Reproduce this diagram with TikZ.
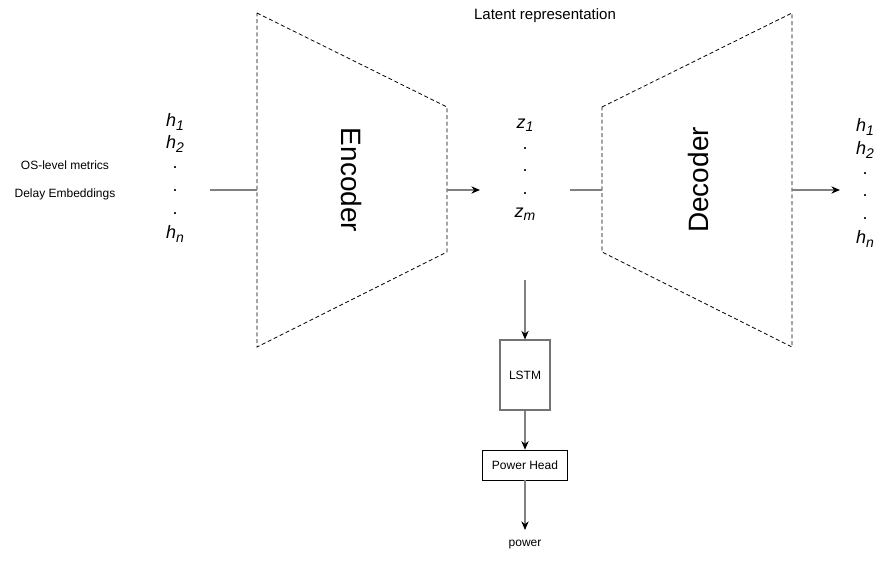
\documentclass[tikz,border=0pt]{standalone}
\usepackage{fontspec}
\setmainfont{Liberation Sans}
\usetikzlibrary{arrows.meta, positioning}

\newcommand{\vsub}[2]{\textit{#1}\raisebox{-0.35ex}{\fontsize{10.5}{12}\selectfont\itshape #2}}

\begin{document}
\begin{tikzpicture}[
    x=0.75pt, y=-0.75pt,
    lbl/.style={font=\fontsize{9}{11}\selectfont, inner sep=0pt},
    var/.style={font=\fontsize{13.5}{16}\selectfont, inner sep=0pt},
    dotv/.style={font=\fontsize{13.5}{16}\selectfont, inner sep=0pt},
    trap/.style={draw, dashed, dash pattern=on 3pt off 2pt, line width=0.6pt},
    title/.style={font=\fontsize{21}{24}\selectfont, inner sep=0pt},
    box/.style={draw, rectangle, align=center, font=\fontsize{9}{11}\selectfont, inner sep=0pt},
    line/.style={draw=black!50, line width=0.8pt},
    arrow/.style={draw=black!50, line width=0.8pt, -{Stealth[length=6.5pt, width=5.5pt, black]}}
]
\useasboundingbox (0,0) rectangle (881,560);

% Eingaben (links)
\node[lbl] (os) at (65,165) {OS-level metrics};
\node[lbl] (delay) at (65,194) {Delay Embeddings};

\node[var] (h1) at (175,122) {\vsub{h}{1}};
\node[var] (h2) at (175,144) {\vsub{h}{2}};
\node[dotv] (hd1) at (175,168) {.};
\node[dotv] (hd2) at (175,191) {.};
\node[dotv] (hd3) at (175,214) {.};
\node[var] (hn) at (175,234) {\vsub{h}{n}};

% Encoder
\draw[trap] (257,13) -- (447,107) -- (447,252) -- (257,347) -- cycle;
\node[title, rotate=-90] (enc) at (352,180) {Encoder};
\coordinate (encin) at (257,190);
\coordinate (encout) at (447,190);
\coordinate (hout) at (210,190);

% Latenter Raum
\node[font=\fontsize{11.25}{13}\selectfont, inner sep=0pt] (latent) at (545,16) {Latent representation};
\node[var] (z1) at (525,125) {\vsub{z}{1}};
\node[dotv] (zd1) at (525,149) {.};
\node[dotv] (zd2) at (525,171) {.};
\node[dotv] (zd3) at (525,194) {.};
\node[var] (zm) at (525,214) {\vsub{z}{m}};
\coordinate (zin) at (480,190);
\coordinate (zout) at (570,190);
\coordinate (zdown) at (525,280);

% Decoder
\draw[trap] (602,107) -- (792,13) -- (792,347) -- (602,252) -- cycle;
\node[title, rotate=90] (dec) at (698,180) {Decoder};
\coordinate (decin) at (602,190);
\coordinate (decout) at (792,190);
\coordinate (rin) at (840,190);

% Ausgaben (rechts)
\node[var] (r1) at (865,127) {\vsub{h}{1}};
\node[var] (r2) at (865,150) {\vsub{h}{2}};
\node[dotv] (rd1) at (865,174) {.};
\node[dotv] (rd2) at (865,196) {.};
\node[dotv] (rd3) at (865,219) {.};
\node[var] (rn) at (865,239) {\vsub{h}{n}};

% Leistungszweig
\node[box, draw=black!55, line width=0.8pt, minimum width=37.5pt, minimum height=52.5pt] (lstm) at (525,375) {LSTM};
\node[box, minimum width=63.75pt, minimum height=22.5pt] (head) at (525,465) {Power Head};
\node[lbl] (power) at (525,545) {power};
\coordinate (pout) at (525,530);

% Verbindungen
\draw[line] (hout) -- (encin);
\draw[arrow] (encout) -- (zin);
\draw[line] (zout) -- (decin);
\draw[arrow] (decout) -- (rin);
\draw[arrow] (zdown) -- (lstm.north);
\draw[arrow] (lstm.south) -- (head.north);
\draw[arrow] (head.south) -- (pout);

\end{tikzpicture}
\end{document}
